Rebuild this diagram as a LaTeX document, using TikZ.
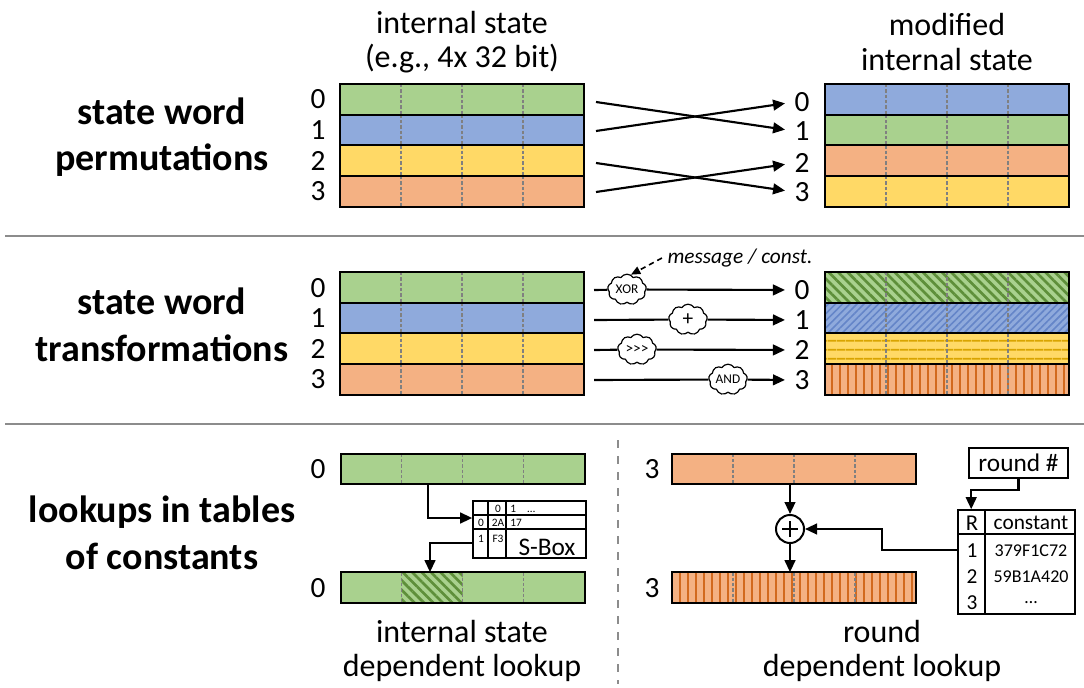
\documentclass[tikz,border=0pt]{standalone}
\usepackage{fontspec}
\setmainfont{Carlito}
\usetikzlibrary{arrows.meta,calc,patterns.meta,shapes.symbols}

\definecolor{cGreen}{HTML}{A9D18E}
\definecolor{cGreenD}{HTML}{5E8F3A}
\definecolor{cBlue}{HTML}{8FAADC}
\definecolor{cBlueD}{HTML}{6485C8}
\definecolor{cYellow}{HTML}{FFD966}
\definecolor{cYellowD}{HTML}{D9A400}
\definecolor{cOrange}{HTML}{F4B183}
\definecolor{cOrangeD}{HTML}{D2691E}
\definecolor{cGrid}{HTML}{808080}
\definecolor{cSep}{HTML}{8C8C8C}

% one 32-bit state word: fill, optional overlay, byte dividers, frame
\newcommand\stword[4][]{%
  \node[wordrow,#4] (#2) at (#3) {};
  #1
  \foreach \ci in {1,2,3}
    \draw[bytecell] ($(#2.north west)!\ci/4!(#2.north east)$) -- ($(#2.south west)!\ci/4!(#2.south east)$);
  \draw[wordframe] (#2.north west) rectangle (#2.south east);
}

\begin{document}
\begin{tikzpicture}[x=0.75pt,y=-0.75pt,
  wordrow/.style={minimum width=183pt, minimum height=23pt, inner sep=0pt, outer sep=0pt},
  bytecell/.style={draw=cGrid, line width=1.1pt, dash pattern=on 2.5pt off 1.5pt},
  wordframe/.style={draw=black, line width=1.5pt},
  numtxt/.style={font=\fontsize{22}{22}\selectfont, inner sep=0pt},
  captxt/.style={font=\fontsize{24}{26}\selectfont, align=center},
  headtxt/.style={font=\bfseries\fontsize{28.5}{35}\selectfont, align=center},
  arr/.style={line width=1.6pt, -{Triangle[length=9pt,width=8pt]}},
  plainline/.style={line width=1.6pt},
  sepline/.style={draw=cSep, line width=2.2pt},
  opcloud/.style={cloud, cloud puffs=9, cloud puff arc=115, cloud ignores aspect, draw,
    line width=0.9pt, fill=white, minimum width=29pt, minimum height=23pt,
    inner sep=0pt, font=\fontsize{10}{10}\selectfont},
  hG/.style={preaction={fill=cGreen}, pattern={Lines[angle=-45,distance=5pt,line width=2pt]}, pattern color=cGreenD},
  hB/.style={preaction={fill=cBlue}, pattern={Lines[angle=45,distance=3.8pt,line width=1.2pt]}, pattern color=cBlueD},
  hY/.style={preaction={fill=cYellow}, pattern={Lines[angle=0,distance=6.5pt,line width=1.4pt]}, pattern color=cYellowD},
  hO/.style={preaction={fill=cOrange}, pattern={Lines[angle=90,distance=6pt,line width=1.8pt]}, pattern color=cOrangeD},
  tablebox/.style={draw, line width=1.2pt, inner sep=0pt, fill=white},
  smalltxt/.style={font=\fontsize{8.5}{8.5}\selectfont, inner sep=0pt},
]
\useasboundingbox (0,0) rectangle (1084,688);

% ---------- captions and section titles ----------
\node[captxt] (capA) at (462,42) {internal state\\(e.g., 4x 32 bit)};
\node[captxt] (capB) at (947,42) {modified\\internal state};
\node[headtxt] (hA) at (162,137) {state word\\permutations};
\node[headtxt] (hB) at (162,325) {state word\\transformations};
\node[headtxt] (hC) at (162,533) {lookups in tables\\of constants};

% section separators
\draw[sepline] (5,236) -- (1084,236);
\draw[sepline] (5,424) -- (1084,424);
\draw[cSep, line width=2pt, dash pattern=on 6pt off 6pt] (618,440) -- (618,684);

% ---------- state word permutations ----------
\stword{pa0}{462,99.35}{fill=cGreen}
\stword{pa1}{462,130.05}{fill=cBlue}
\stword{pa2}{462,160.75}{fill=cYellow}
\stword{pa3}{462,191.45}{fill=cOrange}
\stword{pb0}{947,99.35}{fill=cBlue}
\stword{pb1}{947,130.05}{fill=cGreen}
\stword{pb2}{947,160.75}{fill=cOrange}
\stword{pb3}{947,191.45}{fill=cYellow}

\node[numtxt] (pl0) at (318,99.35) {0};
\node[numtxt] (pl1) at (318,130.05) {1};
\node[numtxt] (pl2) at (318,160.75) {2};
\node[numtxt] (pl3) at (318,191.45) {3};
\node[numtxt] (pr0) at (802,102) {0};
\node[numtxt] (pr1) at (802,131) {1};
\node[numtxt] (pr2) at (802,163) {2};
\node[numtxt] (pr3) at (802,192) {3};

\coordinate (ps) at ($(pa0.east)+(12,0)$);
\draw[arr, shorten >=7pt] (ps |- pr0) -- (pr1.west);
\draw[arr, shorten >=7pt] (ps |- pr1) -- (pr0.west);
\draw[arr, shorten >=7pt] (ps |- pr2) -- (pr3.west);
\draw[arr, shorten >=7pt] (ps |- pr3) -- (pr2.west);

% ---------- state word transformations ----------
\stword{ma0}{462,287.3}{fill=cGreen}
\stword{ma1}{462,318}{fill=cBlue}
\stword{ma2}{462,348.7}{fill=cYellow}
\stword{ma3}{462,379.4}{fill=cOrange}
\stword{mb0}{947,287.3}{hG}
\stword{mb1}{947,318}{hB}
\stword{mb2}{947,348.7}{hY}
\stword{mb3}{947,379.4}{hO}

\node[numtxt] (ml0) at (318,288) {0};
\node[numtxt] (ml1) at (318,318.5) {1};
\node[numtxt] (ml2) at (318,349) {2};
\node[numtxt] (ml3) at (318,379.5) {3};
\node[numtxt] (mr0) at (802,290) {0};
\node[numtxt] (mr1) at (802,320) {1};
\node[numtxt] (mr2) at (802,350) {2};
\node[numtxt] (mr3) at (802,380) {3};

% operations applied on the way
\node[opcloud] (oxor) at (627,289.5) {XOR};
\node[opcloud, font=\fontsize{16}{16}\selectfont] (oadd) at (688,319.5) {+};
\node[opcloud, font=\fontsize{11.5}{11.5}\selectfont] (orot) at (637,349.5) {>{}>{}>};
\node[opcloud] (oand) at (728,379.5) {AND};

\coordinate (ms) at ($(ma0.east)+(10,0)$);
\draw[plainline] (ms |- mr0) -- (oxor);
\draw[plainline] (ms |- mr1) -- (oadd);
\draw[plainline] (ms |- mr2) -- (orot);
\draw[plainline] (ms |- mr3) -- (oand);
\draw[arr, shorten >=7pt] (oxor) -- (mr0.west);
\draw[arr, shorten >=7pt] (oadd) -- (mr1.west);
\draw[arr, shorten >=7pt] (orot) -- (mr2.west);
\draw[arr, shorten >=7pt] (oand) -- (mr3.west);

\node[font=\itshape\fontsize{16}{16}\selectfont, inner sep=1pt] (msg) at (740,258) {message / const.};
\draw[line width=1.2pt, dash pattern=on 4pt off 3pt, -{Triangle[length=7pt,width=6pt]}]
  ($(msg.west)+(-4,0)$) -- (oxor.75);

% ---------- internal state dependent lookup ----------
\stword{la}{462.5,469}{fill=cGreen}
\stword[{\fill[hG] ($(lb.north west)!.25!(lb.north east)$) rectangle ($(lb.south west)!.5!(lb.south east)$);}]{lb}{462.5,587.5}{fill=cGreen}
\node[numtxt] (ll0) at (318,469) {0};
\node[numtxt] (ll1) at (318,588) {0};

\node[tablebox, minimum width=84.75pt, minimum height=42.75pt] (sbox) at (529.5,529.5) {};
\draw[line width=1.2pt] ($(sbox.north west)+(0,15)$) -- ($(sbox.north east)+(0,15)$);
\draw[line width=1.2pt] ($(sbox.north west)+(0,29)$) -- ($(sbox.north east)+(0,29)$);
\draw[line width=1.2pt] ($(sbox.north west)+(16,0)$) -- ($(sbox.south west)+(16,0)$);
\draw[line width=1.2pt] ($(sbox.north west)+(34,0)$) -- ($(sbox.south west)+(34,0)$);
\node[smalltxt] (s01) at (498,509) {0};
\node[smalltxt, anchor=west] (s02) at (510,509) {1\quad\dots};
\node[smalltxt] (s10) at (481,523) {0};
\node[smalltxt] (s11) at (498,523) {2A};
\node[smalltxt, anchor=west] (s12) at (510,523) {17};
\node[smalltxt] (s20) at (481,539) {1};
\node[smalltxt] (s21) at (498,539) {F3};
\node[font=\fontsize{19}{19}\selectfont, inner sep=0pt] (sname) at (547,547) {S-Box};

\draw[arr] ($(la.south)+(-34.5,0)$) |- ($(sbox.west)+(0,-11.5)$);
\draw[arr] ($(sbox.west)+(0,13.5)$) -| ($(lb.north)+(-32.5,0)$);

\node[captxt] (capC) at (462,651) {internal state\\dependent lookup};

% ---------- round dependent lookup ----------
\stword{ra}{794,469}{fill=cOrange}
\stword{rb}{794,587.5}{hO}
\node[numtxt] (rl0) at (652,469) {3};
\node[numtxt] (rl1) at (652,588) {3};

\node[circle, draw, line width=1.5pt, minimum size=21pt, inner sep=0pt, fill=white] (xr) at (790,529) {};
\draw[line width=1.5pt] ($(xr.center)+(-8,0)$) -- ($(xr.center)+(8,0)$);
\draw[line width=1.5pt] ($(xr.center)+(0,-8)$) -- ($(xr.center)+(0,8)$);
\draw[arr] (ra.south -| xr) -- (xr.north);
\draw[arr] (xr.south) -- (rb.north -| xr);

\node[tablebox, font=\fontsize{19}{19}\selectfont, minimum width=74.25pt, minimum height=22.5pt] (rnd) at (1018.5,463) {round \#};

\node[tablebox, minimum width=87.75pt, minimum height=78pt] (ct) at (1016.5,562) {};
\draw[line width=1.2pt] ($(ct.north west)+(28,0)$) -- ($(ct.south west)+(28,0)$);
\draw[line width=1.2pt] ($(ct.north west)+(0,25)$) -- ($(ct.north east)+(0,25)$);
\node[font=\fontsize{17}{17}\selectfont, inner sep=0pt] (tR) at (972,523) {R};
\node[font=\fontsize{16}{16}\selectfont, inner sep=0pt] (tC) at (1031,523) {constant};
\node[font=\fontsize{16}{16}\selectfont, inner sep=0pt] (t1) at (972,551) {1};
\node[font=\fontsize{16}{16}\selectfont, inner sep=0pt] (t2) at (972,577) {2};
\node[font=\fontsize{16}{16}\selectfont, inner sep=0pt] (t3) at (972,603) {3};
\node[font=\fontsize{13.5}{13.5}\selectfont, inner sep=0pt] (v1) at (1031,551) {379F1C72};
\node[font=\fontsize{13.5}{13.5}\selectfont, inner sep=0pt] (v2) at (1031,577) {59B1A420};
\node[font=\fontsize{13.5}{13.5}\selectfont, inner sep=0pt] (v3) at (1031,603) {\dots};

\draw[arr] (rnd.south) -- ++(0,11) -| ($(ct.north west)+(14,0)$);
\draw[arr] ($(ct.north west)+(0,41)$) -- ++(-75,0) |- (xr.east);

\node[captxt] (capD) at (882,651) {round\\dependent lookup};
\end{tikzpicture}
\end{document}
